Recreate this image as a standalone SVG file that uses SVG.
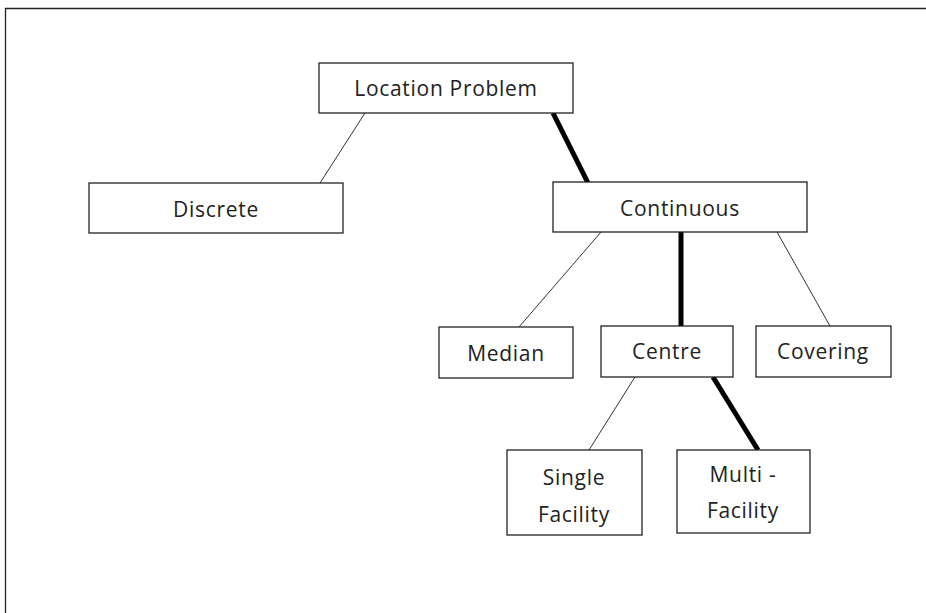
<svg xmlns="http://www.w3.org/2000/svg" width="926" height="613" viewBox="0 0 926 613">
<style>
.box{fill:#fff;stroke:#222;stroke-width:1.3}
.t{font-family:"Open Sans","Liberation Sans",sans-serif;font-size:21px;letter-spacing:0.7px;fill:#222;text-anchor:middle;dominant-baseline:central}
.thin{stroke:#333;stroke-width:1}
.thick{stroke:#000;stroke-width:5}
</style>
<rect width="926" height="613" fill="#fff"/>
<path d="M5.5 613 V8.5 H926" fill="none" stroke="#222" stroke-width="1.3"/>
<g id="connectors">
<line class="thin" x1="365" y1="113" x2="320" y2="183"/>
<line class="thick" x1="553" y1="113" x2="588" y2="183"/>
<line class="thin" x1="601" y1="232" x2="519" y2="327"/>
<line class="thick" x1="681" y1="232" x2="681" y2="326"/>
<line class="thin" x1="777" y1="232" x2="830" y2="326"/>
<line class="thin" x1="635" y1="377" x2="589" y2="450"/>
<line class="thick" x1="713" y1="377" x2="758" y2="450"/>
</g>
<g id="location-problem"><rect class="box" x="319" y="63" width="254" height="50"/><text class="t" x="446" y="88">Location Problem</text></g>
<g id="discrete"><rect class="box" x="89" y="183" width="254" height="50"/><text class="t" x="216" y="209">Discrete</text></g>
<g id="continuous"><rect class="box" x="553" y="182" width="254" height="50"/><text class="t" x="680" y="208">Continuous</text></g>
<g id="median"><rect class="box" x="439" y="327" width="134" height="51"/><text class="t" x="506" y="353">Median</text></g>
<g id="centre"><rect class="box" x="601" y="326" width="132" height="51"/><text class="t" x="667" y="351">Centre</text></g>
<g id="covering"><rect class="box" x="756" y="326" width="135" height="51"/><text class="t" x="823" y="351">Covering</text></g>
<g id="single-facility"><rect class="box" x="507" y="450" width="135" height="85"/><text class="t" x="574" y="477">Single</text><text class="t" x="574" y="514">Facility</text></g>
<g id="multi-facility"><rect class="box" x="677" y="450" width="133" height="83"/><text class="t" x="743" y="474">Multi -</text><text class="t" x="743" y="510">Facility</text></g>
</svg>
